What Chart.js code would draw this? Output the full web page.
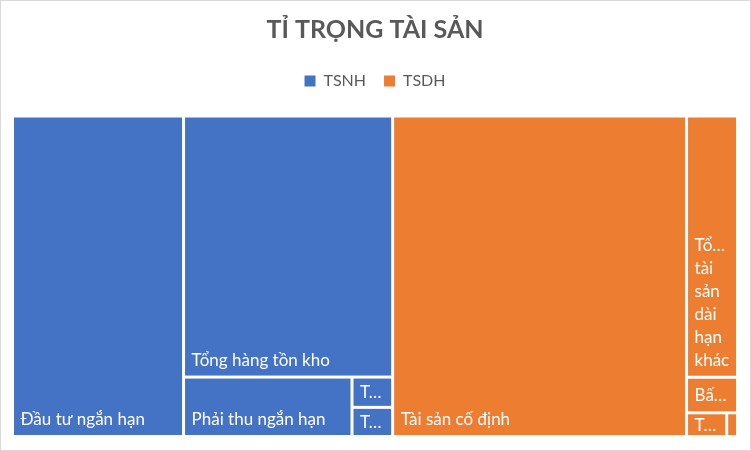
<!DOCTYPE html>
<html>
<head>
<meta charset="utf-8">
<script src="https://cdn.jsdelivr.net/npm/chart.js@4.4.0/dist/chart.umd.min.js"></script>
<style>
html, body { margin: 0; padding: 0; background: #fff; }
#wrap { width: 751px; height: 451px; position: relative; }
</style>
</head>
<body>
<div id="wrap"><canvas id="treeChart"></canvas></div>
<script>
// data (share of total assets, %)
var groupNames = ["TSNH", "TSDH"];
var groupColors = ["#4472C4", "#ED7D31"];

var tsnhLabels = ["Đầu tư ngắn hạn", "Tổng hàng tồn kho", "Phải thu ngắn hạn", "Tiền và tương đương tiền", "Tài sản ngắn hạn khác"];
var tsnhValues = [23.6, 23.5, 4.31, 0.53, 0.51];

var tsdhLabels = ["Tài sản cố định", "Tổng tài sản dài hạn khác", "Bất động sản đầu tư", "Tài sản dở dang dài hạn", "Phải thu dài hạn"];
var tsdhValues = [40.55, 5.73, 0.78, 0.41, 0.11];

var groupLabels = [tsnhLabels, tsdhLabels];
var groupValues = [tsnhValues, tsdhValues];

function sum(arr) {
	var s = 0;
	for (var i = 0; i < arr.length; i++) s += arr[i];
	return s;
}

// aspect ratio test for a row in the squarified layout
function worst(areas, side) {
	var s = sum(areas);
	var mx = Math.max.apply(null, areas), mn = Math.min.apply(null, areas);
	return Math.max(side * side * mx / (s * s), (s * s) / (side * side * mn));
}

// squarified treemap, items sorted big to small
function squarify(items, x, y, w, h) {
	var total = 0;
	items.forEach(function(it) { total += it.value; });
	var k = (w * h) / total;
	var rest = items.map(function(it) { return { item: it, area: it.value * k }; });
	var rects = [];
	while (rest.length) {
		var side = Math.min(w, h);
		var row = [rest[0]];
		var i = 1;
		while (i < rest.length) {
			var a1 = row.map(function(r) { return r.area; });
			var a2 = a1.concat([rest[i].area]);
			if (worst(a2, side) <= worst(a1, side)) { row.push(rest[i]); i++; }
			else break;
		}
		var rowArea = sum(row.map(function(r) { return r.area; }));
		if (w >= h) {
			var cw = rowArea / h, cy = y;
			row.forEach(function(r) {
				var rh = r.area / cw;
				rects.push({ item: r.item, x: x, y: cy, w: cw, h: rh });
				cy += rh;
			});
			x += cw; w -= cw;
		} else {
			var rh = rowArea / w, cx = x;
			row.forEach(function(r) {
				var rw = r.area / rh;
				rects.push({ item: r.item, x: cx, y: y, w: rw, h: rh });
				cx += rw;
			});
			y += rh; h -= rh;
		}
		rest = rest.slice(i);
	}
	return rects;
}

function fitText(ctx, text, maxW) {
	if (ctx.measureText(text).width <= maxW) return text;
	var s = text;
	while (s.length > 0 && ctx.measureText(s.trim() + "…").width > maxW) s = s.slice(0, -1);
	return s.trim().length ? s.trim() + "…" : "";
}

function wrapLabel(ctx, text, maxW, maxLines) {
	if (maxW <= 0 || maxLines < 1) return [];
	var words = text.split(" ");
	var lines = [], cur = "";
	words.forEach(function(wd) {
		var t = cur ? cur + " " + wd : wd;
		if (!cur || ctx.measureText(t).width <= maxW) cur = t;
		else { lines.push(cur); cur = wd; }
	});
	if (cur) lines.push(cur);
	if (lines.length > maxLines) {
		var keep = lines.slice(0, maxLines - 1);
		keep.push(lines.slice(maxLines - 1).join(" "));
		lines = keep;
		lines[lines.length - 1] = fitText(ctx, lines[lines.length - 1], maxW);
	}
	lines = lines.map(function(l) { return fitText(ctx, l, maxW); });
	if (lines.length && lines[0] === "") return [];
	return lines;
}

var treemapPlugin = {
	id: "treemapCells",
	afterDatasetsDraw: function(chart) {
		var ctx = chart.ctx;
		var area = chart.chartArea;
		var xs = chart.scales.x, ys = chart.scales.y;
		var W = area.right - area.left, H = area.bottom - area.top;

		var groups = groupNames.map(function(name, g) {
			return { value: sum(groupValues[g]), g: g };
		});
		var top = squarify(groups, 0, 0, W, H);
		var cells = [];
		top.forEach(function(gr) {
			var g = gr.item.g;
			var items = groupLabels[g].map(function(lb, i) {
				return { value: groupValues[g][i], label: lb, g: g };
			});
			items.sort(function(a, b) { return b.value - a.value; });
			cells = cells.concat(squarify(items, gr.x, gr.y, gr.w, gr.h));
		});

		var gap = 1.5;
		ctx.save();
		cells.forEach(function(c) {
			// layout units -> axis values -> pixels
			var x0 = xs.getPixelForValue(c.x / W * 100);
			var x1 = xs.getPixelForValue((c.x + c.w) / W * 100);
			var y0 = ys.getPixelForValue(c.y / H * 100);
			var y1 = ys.getPixelForValue((c.y + c.h) / H * 100);
			var l = x0 + gap, r = x1 - gap, t = y0 + gap, b = y1 - gap;
			if (r - l <= 0 || b - t <= 0) return;
			ctx.fillStyle = groupColors[c.item.g];
			ctx.fillRect(l, t, r - l, b - t);

			ctx.font = "17px Lato";
			ctx.fillStyle = "#ffffff";
			ctx.textAlign = "left";
			ctx.textBaseline = "alphabetic";
			var lh = 23, capH = 12;
			var padX = 6.5;
			var cellH = b - t;
			var maxLines = cellH < capH + 2 ? 0 : Math.floor((cellH - capH) / lh) + 1;
			var lines = wrapLabel(ctx, c.item.label, r - l - 2 * padX, maxLines);
			if (!lines.length) return;
			var block = (lines.length - 1) * lh + capH;
			// bottom aligned, but centred when the cell is short
			var base = Math.max(b - 10, t + cellH / 2 + block / 2);
			for (var i = 0; i < lines.length; i++) {
				ctx.fillText(lines[i], l + padX, base - (lines.length - 1 - i) * lh);
			}
		});
		ctx.restore();
	}
};

var borderPlugin = {
	id: "outerBorder",
	beforeInit: function(chart) {
		// extra room under the legend
		var fit = chart.legend.fit;
		chart.legend.fit = function() {
			fit.bind(chart.legend)();
			this.height += 17;
		};
	},
	beforeDraw: function(chart) {
		var ctx = chart.ctx;
		ctx.save();
		ctx.fillStyle = "#ffffff";
		ctx.fillRect(0, 0, chart.width, chart.height);
		ctx.strokeStyle = "#d9d9d9";
		ctx.lineWidth = 1;
		ctx.strokeRect(0.5, 0.5, chart.width - 1, chart.height - 1);
		ctx.restore();
	}
};

var ctx = document.getElementById("treeChart").getContext("2d");
var chart = new Chart(ctx, {
	type: "scatter",
	data: {
		datasets: groupNames.map(function(name, g) {
			return {
				label: name,
				data: [],
				backgroundColor: groupColors[g],
				borderColor: groupColors[g],
				borderWidth: 0
			};
		})
	},
	options: {
		responsive: true,
		maintainAspectRatio: false,
		animation: false,
		layout: {
			padding: { left: 12.5, right: 13.5, bottom: 14.5, top: 0 }
		},
		scales: {
			x: { display: false, min: 0, max: 100 },
			y: { display: false, min: 0, max: 100, reverse: true }
		},
		plugins: {
			title: {
				display: true,
				text: "TỈ TRỌNG TÀI SẢN",
				color: "#595959",
				font: { family: "Lato", size: 25, weight: "bold" },
				padding: { top: 15, bottom: 10 }
			},
			legend: {
				display: true,
				position: "top",
				labels: {
					color: "#595959",
					font: { family: "Lato", size: 16 },
					boxWidth: 11,
					boxHeight: 11,
					padding: 18
				}
			},
			tooltip: { enabled: false }
		}
	},
	plugins: [borderPlugin, treemapPlugin]
});
</script>
</body>
</html>
